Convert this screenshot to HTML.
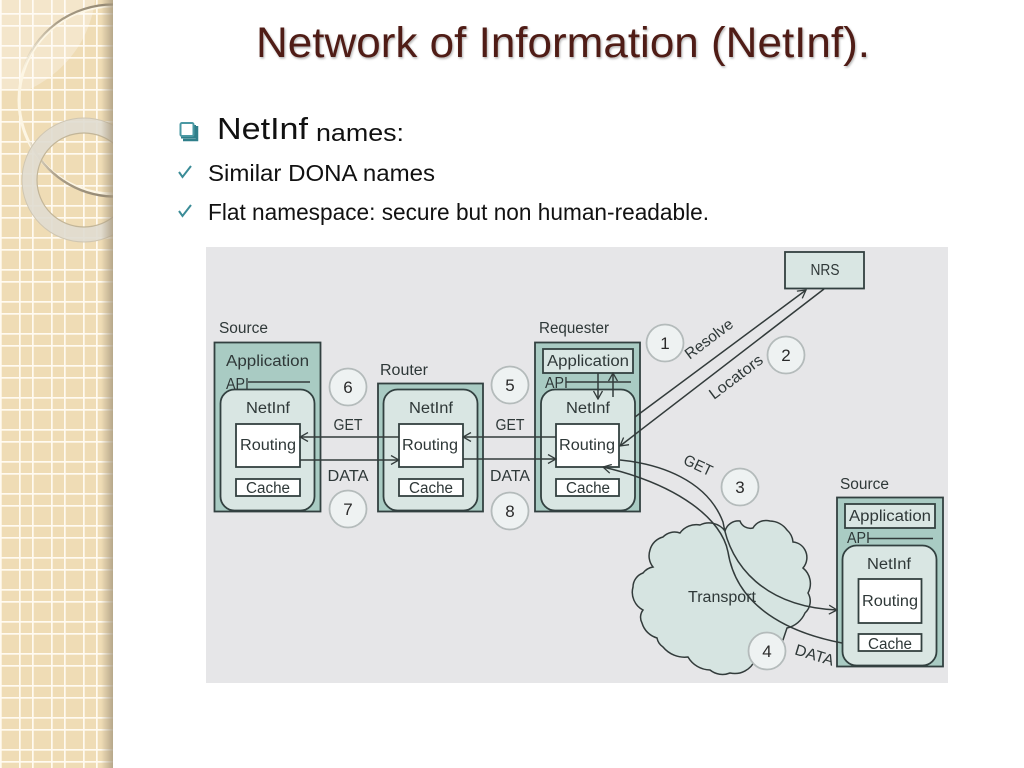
<!DOCTYPE html>
<html><head><meta charset="utf-8"><style>
html,body{margin:0;padding:0;background:#fff;width:1024px;height:768px;overflow:hidden}
svg{display:block}
text{font-family:"Liberation Sans",sans-serif}
.d{font-size:15.500px;fill:#2f3737}
.box{stroke:#334140;stroke-width:1.8}
.ln{stroke:#333b3a;stroke-width:1.5;fill:none}
.c{fill:#eef2f2;stroke:#b4bbbb;stroke-width:1.8}
.n{font-size:17px;fill:#2c2c2c;text-anchor:middle}
.m{text-anchor:middle}
</style></head><body>
<svg width="1024" height="768" viewBox="0 0 1024 768" xmlns="http://www.w3.org/2000/svg">
<defs>
<pattern id="g" width="32" height="32" patternUnits="userSpaceOnUse" x="0" y="13">
<rect width="32" height="32" fill="#efdcb5"/>
<rect x="19" width="1.700" height="32" fill="#fffaf0"/>
<rect y="0" width="32" height="1.700" fill="#fffaf0"/>
<rect x="0" width="1.700" height="32" fill="#fffaf0"/>
<rect y="12" width="32" height="1.700" fill="#fffaf0"/>
</pattern>
<linearGradient id="sh" x1="0" x2="1" y1="0" y2="0"><stop offset="0" stop-color="#a89a80" stop-opacity="0"/><stop offset="1" stop-color="#a89a80" stop-opacity=".8"/></linearGradient>
<linearGradient id="arc" gradientUnits="userSpaceOnUse" x1="113" y1="0" x2="22" y2="0"><stop offset="0" stop-color="#8f8470"/><stop offset=".6" stop-color="#a89c86"/><stop offset="1" stop-color="#a89c86" stop-opacity="0"/></linearGradient>
<clipPath id="sb"><rect width="113" height="768"/></clipPath>
<marker id="a" viewBox="0 0 10 10" refX="9" refY="5" markerWidth="10" markerHeight="10" markerUnits="userSpaceOnUse" orient="auto"><path d="M1 0.5L9 5L1 9.5" fill="none" stroke="#333b3a" stroke-width="1.300"/></marker>
<filter id="ts" x="-5%" y="-10%" width="110%" height="130%"><feDropShadow dx="1" dy="1.500" stdDeviation="1" flood-color="#000" flood-opacity=".3"/></filter>
<filter id="soft" x="0" y="0" width="100%" height="100%"><feGaussianBlur stdDeviation="0.35"/></filter>
</defs>

<!-- sidebar -->
<rect width="113" height="768" fill="url(#g)"/>
<g clip-path="url(#sb)">
<path d="M0 0H95C90 40 65 72 30 89L0 89Z" fill="#fff" opacity=".3"/>
<circle cx="113" cy="100" r="94" fill="none" stroke="#fdf6e4" stroke-width="3"/>
<path d="M113 4.500A95 95 0 0 0 22 72" fill="none" stroke="url(#arc)" stroke-width="2.200"/>
<path d="M30 142A94 94 0 0 0 113 196.500" fill="none" stroke="url(#arc)" stroke-width="2.400"/>
<circle cx="84" cy="180" r="54.500" fill="none" stroke="#e0dcd0" stroke-width="15" opacity=".9"/>
<circle cx="84" cy="180" r="47" fill="none" stroke="#c2b598" stroke-width="1.200"/>
<circle cx="84" cy="180" r="62" fill="none" stroke="#cfc6b2" stroke-width="1"/>
</g>
<rect x="101" width="12" height="768" fill="url(#sh)"/>

<!-- title -->
<text x="256" y="57" font-size="42.500" fill="#4f1c14" filter="url(#ts)" textLength="614" lengthAdjust="spacingAndGlyphs">Network of Information (NetInf).</text>

<!-- bullets -->
<path d="M181 125H196V138.500H181Z" fill="#2f7f8a"/>
<path d="M183 140H197V126" fill="none" stroke="#2f7f8a" stroke-width="2.500"/>
<rect x="180.500" y="123" width="13" height="13" rx="1.500" fill="#fff" stroke="#4a98a3" stroke-width="2"/>
<text x="217" y="139" font-size="31" fill="#111" textLength="91" lengthAdjust="spacingAndGlyphs">NetInf</text>
<text x="316" y="141" font-size="24" fill="#111" textLength="88" lengthAdjust="spacingAndGlyphs">names:</text>
<path d="M179 172L182.500 177L191 166" fill="none" stroke="#3b8c97" stroke-width="2"/>
<path d="M179 211L182.500 216L191 205" fill="none" stroke="#3b8c97" stroke-width="2"/>
<text x="208" y="181" font-size="23" fill="#111" textLength="227" lengthAdjust="spacingAndGlyphs">Similar DONA names</text>
<text x="208" y="220" font-size="23" fill="#111" textLength="501" lengthAdjust="spacingAndGlyphs">Flat namespace: secure but non human-readable.</text>

<g filter="url(#soft)">
<!-- diagram bg -->
<rect x="206" y="247" width="742" height="436" fill="#e6e6e8"/>

<!-- NRS -->
<rect class="box" x="785" y="252" width="79" height="36.500" fill="#d9e6e3"/>
<text class="d m" x="825" y="275" textLength="29" lengthAdjust="spacingAndGlyphs">NRS</text>

<!-- Source left -->
<text class="d" x="219" y="333" textLength="49" lengthAdjust="spacingAndGlyphs">Source</text>
<rect class="box" x="214.500" y="342.500" width="106" height="169" fill="#a9cbc3"/>
<text class="d" x="226" y="366" textLength="83" lengthAdjust="spacingAndGlyphs">Application</text>
<text class="d" x="226" y="389" textLength="23" lengthAdjust="spacingAndGlyphs">API</text>
<path class="ln" d="M248 382H310"/>
<rect class="box" x="220.500" y="389.500" width="94" height="121" rx="14" fill="#d9e6e3"/>
<text class="d m" x="268" y="413" textLength="44" lengthAdjust="spacingAndGlyphs">NetInf</text>
<rect class="box" x="236" y="424" width="64" height="43" fill="#fff"/>
<text class="d m" x="268" y="450" textLength="56" lengthAdjust="spacingAndGlyphs">Routing</text>
<rect class="box" x="236" y="479" width="64" height="17" fill="#fff"/>
<text class="d m" x="268" y="493" textLength="44" lengthAdjust="spacingAndGlyphs">Cache</text>

<!-- Router -->
<text class="d" x="380" y="375" textLength="48" lengthAdjust="spacingAndGlyphs">Router</text>
<rect class="box" x="378" y="383.500" width="105" height="128" fill="#a9cbc3"/>
<rect class="box" x="383.500" y="389.500" width="94" height="121" rx="14" fill="#d9e6e3"/>
<text class="d m" x="431" y="413" textLength="44" lengthAdjust="spacingAndGlyphs">NetInf</text>
<rect class="box" x="399" y="424" width="64" height="43" fill="#fff"/>
<text class="d m" x="430" y="450" textLength="56" lengthAdjust="spacingAndGlyphs">Routing</text>
<rect class="box" x="399" y="479" width="64" height="17" fill="#fff"/>
<text class="d m" x="431" y="493" textLength="44" lengthAdjust="spacingAndGlyphs">Cache</text>

<!-- Requester -->
<text class="d" x="539" y="333" textLength="70" lengthAdjust="spacingAndGlyphs">Requester</text>
<rect class="box" x="535" y="342.500" width="105" height="169" fill="#a9cbc3"/>
<rect class="box" x="543" y="349" width="90" height="24" fill="#d9e6e3"/>
<text class="d m" x="588" y="366" textLength="82" lengthAdjust="spacingAndGlyphs">Application</text>
<text class="d" x="545" y="388" textLength="23" lengthAdjust="spacingAndGlyphs">API</text>
<path class="ln" d="M566 382H631"/>
<rect class="box" x="541" y="389.500" width="94" height="121" rx="14" fill="#d9e6e3"/>
<path class="ln" d="M598 373V399" marker-end="url(#a)"/>
<path class="ln" d="M613 397V373" marker-end="url(#a)"/>
<text class="d m" x="588" y="413" textLength="44" lengthAdjust="spacingAndGlyphs">NetInf</text>
<rect class="box" x="556" y="424" width="63" height="43" fill="#fff"/>
<text class="d m" x="587" y="450" textLength="56" lengthAdjust="spacingAndGlyphs">Routing</text>
<rect class="box" x="556" y="479" width="63" height="17" fill="#fff"/>
<text class="d m" x="588" y="493" textLength="44" lengthAdjust="spacingAndGlyphs">Cache</text>

<!-- Cloud -->
<path d="M725 531A14 14 0 0 1 740 521A11 11 0 0 0 753 528A15 15 0 0 1 770 521A22 22 0 0 1 787 530A18 18 0 0 1 793 542A15 15 0 0 1 805 550A16 16 0 0 1 803 568A20 20 0 0 1 808 593A16 16 0 0 1 805 613A26 26 0 0 1 787 628L783 640L770 655L755 660A22 22 0 0 1 730 673A20 20 0 0 1 710 670A26 26 0 0 1 688 657A28 28 0 0 1 663 647A14 14 0 0 1 657 638A22 22 0 0 1 642 623A12 12 0 0 1 643 610A20 20 0 0 1 633 587A15 15 0 0 1 643 573A16 16 0 0 1 653 567A18 18 0 0 1 650 550A18 18 0 0 1 663 537A16 16 0 0 1 680 533A20 20 0 0 1 700 525A20 20 0 0 1 725 531Z" fill="#d6e4e1" stroke="#333b3a" stroke-width="1.500"/>
<text class="d m" x="722" y="602" textLength="68" lengthAdjust="spacingAndGlyphs">Transport</text>

<!-- Source right -->
<text class="d" x="840" y="489" textLength="49" lengthAdjust="spacingAndGlyphs">Source</text>
<rect class="box" x="837" y="497.500" width="106" height="169" fill="#a9cbc3"/>
<rect class="box" x="845" y="504" width="90" height="24" fill="#d9e6e3"/>
<text class="d m" x="890" y="521" textLength="82" lengthAdjust="spacingAndGlyphs">Application</text>
<text class="d" x="847" y="543" textLength="23" lengthAdjust="spacingAndGlyphs">API</text>
<path class="ln" d="M868 538.500H933"/>
<rect class="box" x="842.500" y="545.500" width="94" height="120" rx="14" fill="#d9e6e3"/>
<text class="d m" x="889" y="569" textLength="44" lengthAdjust="spacingAndGlyphs">NetInf</text>
<rect class="box" x="858.500" y="579" width="63" height="44" fill="#fff"/>
<text class="d m" x="890" y="606" textLength="56" lengthAdjust="spacingAndGlyphs">Routing</text>
<rect class="box" x="858.500" y="634" width="63" height="17" fill="#fff"/>
<text class="d m" x="890" y="649" textLength="44" lengthAdjust="spacingAndGlyphs">Cache</text>

<!-- connectors -->
<path class="ln" d="M399 437H300" marker-end="url(#a)"/>
<path class="ln" d="M300 460H399" marker-end="url(#a)"/>
<path class="ln" d="M556 437H463" marker-end="url(#a)"/>
<path class="ln" d="M463 459H556" marker-end="url(#a)"/>
<path class="ln" d="M635 417L806 290" marker-end="url(#a)"/>
<path class="ln" d="M824 289L620 446" marker-end="url(#a)"/>
<path class="ln" d="M620 460C660 464 707 480 723 522C730 566 765 607 837 610" marker-end="url(#a)"/>
<path class="ln" d="M842 643C790 633 737 608 728 552C722 520 680 485 603 467" marker-end="url(#a)"/>

<!-- edge labels -->
<text class="d m" x="348" y="430" textLength="29" lengthAdjust="spacingAndGlyphs">GET</text>
<text class="d m" x="348" y="481" textLength="41" lengthAdjust="spacingAndGlyphs">DATA</text>
<text class="d m" x="510" y="430" textLength="29" lengthAdjust="spacingAndGlyphs">GET</text>
<text class="d m" x="510" y="481" textLength="40" lengthAdjust="spacingAndGlyphs">DATA</text>
<text class="d m" transform="translate(712 343) rotate(-37)" textLength="56" lengthAdjust="spacingAndGlyphs">Resolve</text>
<text class="d m" transform="translate(739 381) rotate(-37)" textLength="63" lengthAdjust="spacingAndGlyphs">Locators</text>
<text class="d m" transform="translate(696 470) rotate(25)" textLength="30" lengthAdjust="spacingAndGlyphs">GET</text>
<text class="d m" transform="translate(813 660) rotate(17)" textLength="40" lengthAdjust="spacingAndGlyphs">DATA</text>

<!-- number circles -->
<circle class="c" cx="665" cy="343" r="18.500"/><text class="n" x="665" y="349">1</text>
<circle class="c" cx="786" cy="355" r="18.500"/><text class="n" x="786" y="361">2</text>
<circle class="c" cx="740" cy="487" r="18.500"/><text class="n" x="740" y="493">3</text>
<circle class="c" cx="767" cy="651" r="18.500"/><text class="n" x="767" y="657">4</text>
<circle class="c" cx="510" cy="385" r="18.500"/><text class="n" x="510" y="391">5</text>
<circle class="c" cx="348" cy="387" r="18.500"/><text class="n" x="348" y="393">6</text>
<circle class="c" cx="348" cy="509" r="18.500"/><text class="n" x="348" y="515">7</text>
<circle class="c" cx="510" cy="511" r="18.500"/><text class="n" x="510" y="517">8</text>
</g>
</svg>
</body></html>
